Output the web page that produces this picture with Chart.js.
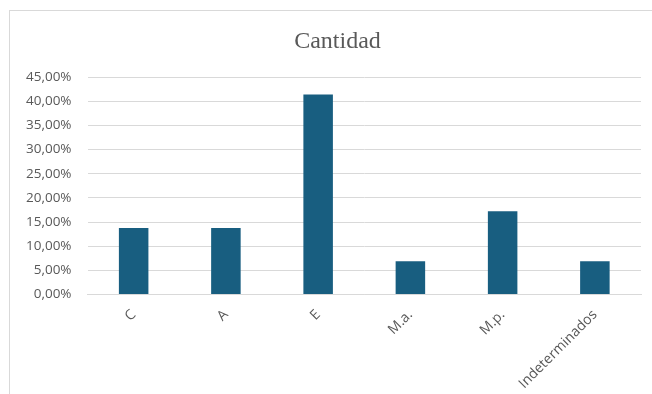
<!DOCTYPE html>
<html>
<head>
<meta charset="utf-8">
<script src="https://cdn.jsdelivr.net/npm/chart.js@4"></script>
<style>
  html, body { margin: 0; padding: 0; background: #fff; overflow: hidden; width: 652px; height: 394px; }
  #frame { position: absolute; left: 9px; top: 10px; width: 660px; height: 400px; border: 1px solid #d9d9d9; box-sizing: border-box; }
  #chart { position: absolute; left: 0; top: 0; }
</style>
</head>
<body>
<div id="frame"><canvas id="chart" width="655" height="393"></canvas></div>
<script>
const categories = ['C', 'A', 'E', 'M.a.', 'M.p.', 'Indeterminados'];
const shares = [0.1379, 0.1379, 0.4138, 0.0690, 0.1724, 0.0690];
const yTicks = [0, 0.05, 0.10, 0.15, 0.20, 0.25, 0.30, 0.35, 0.40, 0.45];
const chartTitle = 'Cantidad';

const pct = v => (v * 100).toFixed(2).replace('.', ',') + '%';

// Title centred on the whole canvas rather than on the padded layout box
const centredTitle = {
  id: 'centredTitle',
  afterDraw(chart) {
    const ctx = chart.ctx;
    ctx.save();
    ctx.font = '24px "Liberation Serif", serif';
    ctx.fillStyle = '#595959';
    ctx.textAlign = 'center';
    ctx.textBaseline = 'middle';
    ctx.fillText(chartTitle, chart.width / 2, 31);
    ctx.restore();
  }
};

new Chart(document.getElementById('chart'), {
  type: 'bar',
  data: {
    labels: categories,
    datasets: [{
      label: chartTitle,
      data: shares,
      backgroundColor: '#185E80',
      borderWidth: 0,
      barPercentage: 0.32,
      categoryPercentage: 1
    }]
  },
  plugins: [centredTitle],
  options: {
    responsive: false,
    animation: false,
    layout: { padding: { left: 0, right: 24, top: 66, bottom: 0 } },
    plugins: {
      legend: { display: false },
      tooltip: { enabled: false },
      title: { display: false }
    },
    scales: {
      x: {
        grid: { display: false, drawTicks: false },
        border: { display: true, color: '#d9d9d9', width: 1 },
        ticks: {
          color: '#595959',
          font: { family: '"Open Sans", sans-serif', size: 14 },
          minRotation: 45,
          maxRotation: 45,
          padding: 12
        }
      },
      y: {
        min: 0,
        max: 0.45,
        afterBuildTicks: axis => { axis.ticks = yTicks.map(v => ({ value: v })); },
        grid: { color: '#d9d9d9', lineWidth: 1, drawTicks: false },
        border: { display: false },
        ticks: {
          color: '#595959',
          font: { family: '"Open Sans", sans-serif', size: 13.5 },
          padding: 16,
          callback: v => pct(v)
        }
      }
    }
  }
});
</script>
</body>
</html>
